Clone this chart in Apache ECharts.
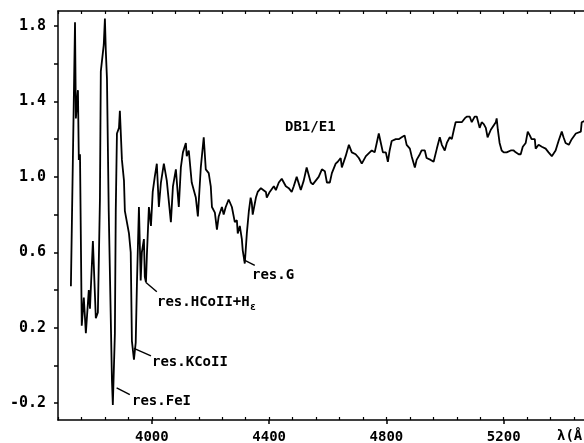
<!DOCTYPE html>
<html>
<head>
<meta charset="utf-8">
<script src="https://cdn.jsdelivr.net/npm/echarts@6/dist/echarts.min.js"></script>
<style>
html,body{margin:0;padding:0;background:#fff;}
#c{width:584px;height:443px;}
</style>
</head>
<body>
<div id="c"></div>
<script>
// wavelength (Angstrom)
const wavelength = [
3724,3738,3741,3748,3751,3755,3761,3768,3775,3785,
3789,3799,3809,3816,3823,3826,3836,3840,3843,3847,
3853,3864,3867,3874,3877,3881,3888,3891,3898,3905,
3908,3915,3922,3928,3932,3939,3945,3949,3956,3962,
3966,3973,3976,3980,3983,3990,3997,4003,4010,4017,
4024,4031,4041,4051,4065,4072,4082,4092,4099,4106,
4116,4119,4126,4136,4150,4157,4167,4177,4184,4194,
4201,4205,4215,4222,4228,4239,4245,4252,4262,4273,
4283,4290,4293,4300,4307,4310,4317,4324,4331,4337,
4341,4344,4355,4361,4372,4378,4389,4392,4402,4416,
4423,4433,4443,4450,4457,4467,4477,4484,4494,4508,
4518,4528,4542,4549,4559,4569,4580,4590,4597,4607,
4614,4627,4634,4644,4648,4661,4672,4682,4695,4706,
4716,4730,4743,4750,4760,4767,4774,4781,4788,4798,
4805,4811,4818,4832,4842,4852,4862,4869,4880,4886,
4897,4903,4914,4920,4931,4937,4951,4961,4972,4982,
4989,4999,5006,5016,5023,5030,5036,5050,5057,5067,
5074,5084,5091,5101,5108,5118,5125,5132,5139,5145,
5156,5162,5173,5176,5180,5186,5193,5200,5210,5224,
5234,5241,5244,5251,5258,5265,5275,5282,5289,5295,
5306,5309,5319,5330,5343,5353,5364,5377,5387,5398,
5404,5411,5422,5432,5446,5452,5463,5466,5480
];
// relative flux
const flux = [
0.42,1.82,1.31,1.46,1.09,1.12,0.21,0.36,0.17,0.40,
0.30,0.66,0.25,0.28,0.88,1.56,1.70,1.84,1.67,1.52,
0.82,-0.08,-0.21,0.17,0.82,1.23,1.26,1.35,1.09,0.98,
0.82,0.76,0.70,0.60,0.13,0.03,0.12,0.42,0.84,0.45,
0.60,0.67,0.47,0.44,0.58,0.84,0.74,0.92,1.00,1.07,
0.84,0.97,1.07,0.98,0.76,0.95,1.04,0.84,1.05,1.13,
1.18,1.11,1.14,0.97,0.89,0.79,1.05,1.21,1.04,1.02,
0.95,0.84,0.81,0.72,0.79,0.84,0.80,0.84,0.88,0.84,
0.76,0.77,0.70,0.74,0.67,0.61,0.54,0.70,0.82,0.89,
0.86,0.80,0.89,0.92,0.94,0.93,0.92,0.89,0.92,0.95,
0.93,0.97,0.99,0.97,0.95,0.94,0.92,0.95,1.00,0.93,
0.98,1.05,0.97,0.96,0.98,1.00,1.04,1.03,0.97,0.97,
1.02,1.07,1.08,1.10,1.05,1.11,1.17,1.13,1.12,1.10,
1.07,1.11,1.13,1.14,1.13,1.18,1.23,1.18,1.13,1.13,
1.08,1.14,1.19,1.20,1.20,1.21,1.22,1.17,1.15,1.11,
1.05,1.09,1.12,1.14,1.14,1.10,1.09,1.08,1.15,1.21,
1.17,1.14,1.18,1.21,1.20,1.25,1.29,1.29,1.29,1.31,
1.32,1.32,1.29,1.32,1.32,1.26,1.29,1.28,1.26,1.21,
1.25,1.26,1.29,1.31,1.25,1.18,1.14,1.13,1.13,1.14,
1.14,1.13,1.13,1.12,1.12,1.16,1.18,1.24,1.22,1.20,
1.20,1.15,1.17,1.16,1.15,1.13,1.11,1.14,1.19,1.24,
1.21,1.18,1.17,1.20,1.23,1.22,1.24,1.29,1.30
];
const xTickLabels = [4000, 4400, 4800, 5200];
const yTickLabels = [-0.2, 0.2, 0.6, 1.0, 1.4, 1.8];
const yTicks = [-0.2, 0, 0.2, 0.4, 0.6, 0.8, 1.0, 1.2, 1.4, 1.6, 1.8];
// line identifications: [from point], [to point]
const pointers = [
  [[4314, 0.56], [4351, 0.53]],
  [[3980, 0.44], [4017, 0.39]],
  [[3939, 0.09], [3997, 0.05]],
  [[3880, -0.12], [3925, -0.155]]
];

const FONT = 'DejaVu Sans Mono';
const data = wavelength.map((w, i) => [w, flux[i]]);

const chart = echarts.init(document.getElementById('c'), null, {renderer: 'canvas'});
const axisCommon = {
  type: 'value', min: 3680, max: 5600, interval: 80,
  splitLine: {show: false}
};
const ann = 'bold 14px "DejaVu Sans Mono"';
chart.setOption({
  animation: false,
  backgroundColor: '#fff',
  grid: {left: 58, top: 11, width: 563, height: 409, containLabel: false, outerBoundsMode: 'none'},
  xAxis: [
    Object.assign({}, axisCommon, {
      position: 'bottom',
      axisLine: {show: true, onZero: false, lineStyle: {color: '#000', width: 1.5}},
      axisTick: {show: true, inside: true, length: 3, lineStyle: {color: '#000', width: 1.2}},
      axisLabel: {
        show: true, customValues: xTickLabels, margin: 10,
        formatter: v => String(v),
        fontFamily: FONT, fontWeight: 'bold', fontSize: 14, color: '#000'
      }
    }),
    Object.assign({}, axisCommon, {
      position: 'bottom',
      axisLine: {show: false, onZero: false},
      axisTick: {show: true, inside: false, length: 4, customValues: xTickLabels, lineStyle: {color: '#000', width: 1.5}},
      axisLabel: {show: false}
    }),
    Object.assign({}, axisCommon, {
      position: 'top',
      axisLine: {show: true, onZero: false, lineStyle: {color: '#000', width: 1.5}},
      axisTick: {show: true, inside: true, length: 3, lineStyle: {color: '#000', width: 1.2}},
      axisLabel: {show: false}
    })
  ],
  yAxis: [{
    type: 'value', min: -0.29, max: 1.88,
    splitLine: {show: false},
    axisLine: {show: true, onZero: false, lineStyle: {color: '#000', width: 1.5}},
    axisTick: {show: true, inside: false, length: 4, customValues: yTicks, lineStyle: {color: '#000', width: 1.5}},
    axisLabel: {
      show: true, customValues: yTickLabels, margin: 12,
      formatter: v => Number(v).toFixed(1),
      fontFamily: FONT, fontWeight: 'bold', fontSize: 15, color: '#000'
    }
  }],
  series: [{
    type: 'line',
    xAxisIndex: 0, yAxisIndex: 0,
    data: data,
    showSymbol: false,
    symbol: 'none',
    lineStyle: {color: '#000', width: 1.8},
    clip: true,
    markLine: {
      silent: true, symbol: 'none', animation: false,
      label: {show: false},
      lineStyle: {color: '#000', width: 1.4, type: 'solid'},
      data: pointers.map(p => [{coord: p[0]}, {coord: p[1]}])
    }
  }],
  graphic: [
    {type: 'text', left: 285, top: 120, style: {text: 'DB1/E1', font: ann, fill: '#000'}},
    {type: 'text', left: 252, top: 268, style: {text: 'res.G', font: ann, fill: '#000'}},
    {type: 'text', left: 157, top: 295, style: {text: 'res.HCoII+H', font: ann, fill: '#000'}},
    {type: 'text', left: 250, top: 302, style: {text: 'ε', font: 'bold 10px "DejaVu Sans Mono"', fill: '#000'}},
    {type: 'text', left: 152, top: 355, style: {text: 'res.KCoII', font: ann, fill: '#000'}},
    {type: 'text', left: 132, top: 394, style: {text: 'res.FeI', font: ann, fill: '#000'}},
    {type: 'text', left: 557, top: 429, style: {text: 'λ(Å)', font: ann, fill: '#000'}}
  ]
});
</script>
</body>
</html>
